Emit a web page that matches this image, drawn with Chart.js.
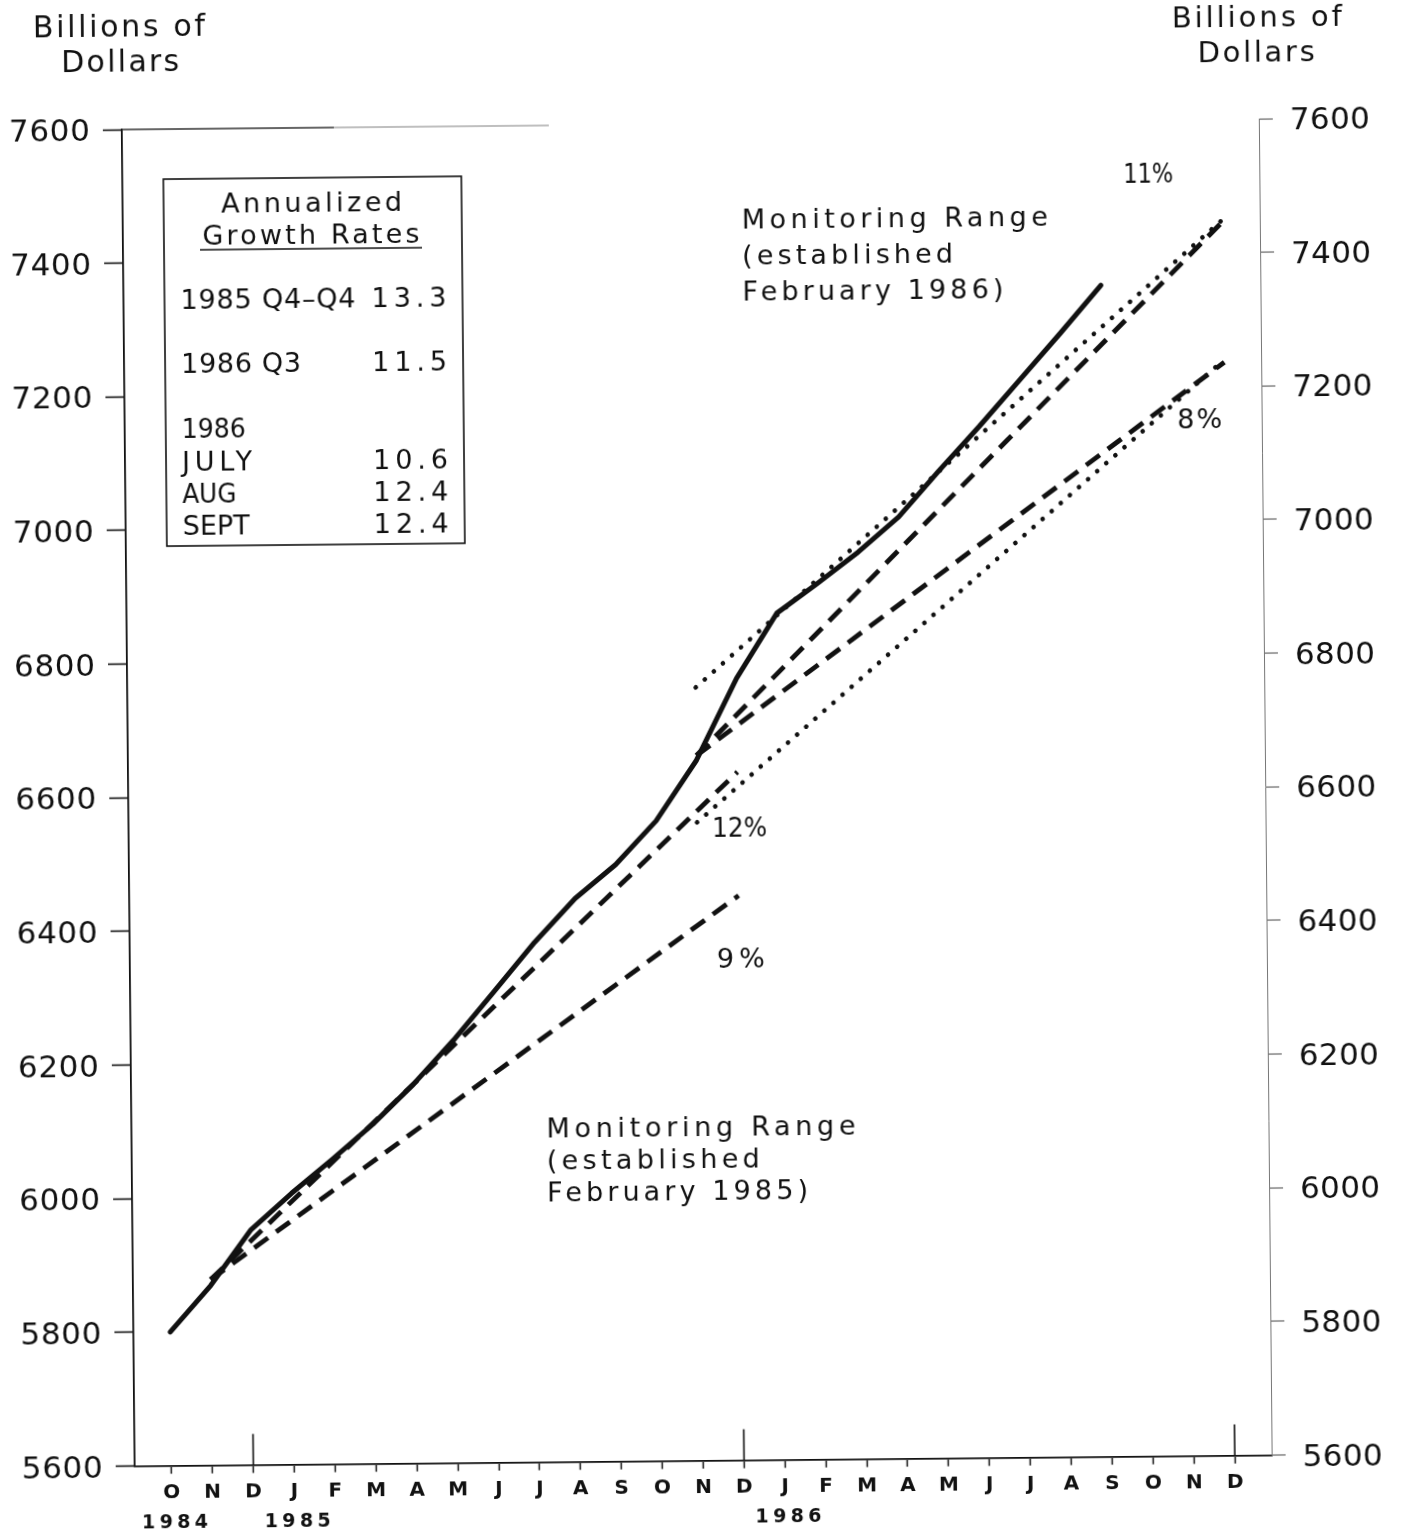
<!DOCTYPE html>
<html>
<head>
<meta charset="utf-8">
<title>Debt monitoring ranges</title>
<script src="https://cdn.jsdelivr.net/npm/chart.js@4.4.1/dist/chart.umd.min.js"></script>
<style>
  html, body { margin: 0; padding: 0; background: #fff; overflow: hidden; }
  /* the original is a slightly skewed scan, so the whole sheet is turned a little */
  #chart { display: block; transform: rotate(-0.55deg); transform-origin: 703px 766px; }
</style>
</head>
<body>
<canvas id="chart" width="1406" height="1532"></canvas>
<script>
// ---------------- data ----------------

// months Oct 1984 .. Dec 1986, index 0 = Oct 1984
const monthLabels = ['O','N','D','J','F','M','A','M','J','J','A','S','O','N','D','J','F','M','A','M','J','J','A','S','O','N','D']
const yearIndex = [0, 3, 15]
const yearLabels = ['1984', '1985', '1986']
const decemberIndex = [2, 14, 26]   // the long ticks at year ends

const yTicks = [5600, 5800, 6000, 6200, 6400, 6600, 6800, 7000, 7200, 7400, 7600]

// actual level, billions of dollars, Oct 1984 .. Sep 1986
const actualMonths = [0,1,2,3,4,5,6,7,8,9,10,11,12,13,14,15,16,17,18,19,20,21,22,23]
const actualDebt = [5800, 5869, 5952, 6006, 6056, 6108, 6167, 6233, 6305, 6378, 6443, 6493,
                    6558, 6648, 6770, 6867, 6911, 6957, 7009, 7078, 7144, 7213, 7282, 7353]

// monitoring range established February 1985 (9% - 12%)
const range85Months = [1, 14]
const range85High = [5878, 6630]   // 12%
const range85Low = [5878, 6445]    // 9%

// monitoring range established February 1986 (8% - 11%)
const range86Months = [13, 26]
const range86High = [6655, 7447]   // 11%
const range86Low = [6655, 7236]    // 8%

// dotted band
const bandMonths = [13, 26]
const bandHigh = [6757, 7450]
const bandLow = [6555, 7240]

// -----------------------------------------------------------

const FONT = "'DejaVu Sans', sans-serif"

const pts = (xs, ys) => xs.map((m, i) => ({ x: m, y: ys[i] }))

const solid = { borderColor: '#111', borderWidth: 5, pointRadius: 0, borderJoinStyle: 'round', borderCapStyle: 'round', tension: 0 }
const dashed = { borderColor: '#111', borderWidth: 4.8, pointRadius: 0, borderDash: [17, 10], tension: 0 }
const dotted = { borderColor: '#111', borderWidth: 4.6, pointRadius: 0, borderDash: [0.1, 12], borderCapStyle: 'round', tension: 0 }

// text placed on the sheet
const notes = [
  { t: 'Billions of', x: 126, y: 31, w: 172, f: '30px', a: 'c' },
  { t: 'Dollars', x: 127, y: 66, w: 118, f: '30px', a: 'c' },
  { t: 'Billions of', x: 1264, y: 32, w: 170, f: '29px', a: 'c' },
  { t: 'Dollars', x: 1263, y: 67, w: 117, f: '29px', a: 'c' },

  { t: 'Annualized', x: 317, y: 208, w: 181, f: '27px', a: 'c' },
  { t: 'Growth Rates', x: 316, y: 240, w: 217, f: '27px', a: 'c' },
  { t: '1985 Q4\u2013Q4', x: 185, y: 304, w: 175, f: '27px', a: 'l' },
  { t: '13.3', x: 451, y: 304, w: 75, f: '27px', a: 'r' },
  { t: '1986 Q3', x: 185, y: 368, w: 120, f: '27px', a: 'l' },
  { t: '11.5', x: 451, y: 368, w: 75, f: '27px', a: 'r' },
  { t: '1986', x: 185, y: 433, w: 64, f: '27px', a: 'l' },
  { t: 'JULY', x: 185, y: 466, w: 70, f: '27px', a: 'l' },
  { t: '10.6', x: 451, y: 466, w: 75, f: '27px', a: 'r' },
  { t: 'AUG', x: 185, y: 498, w: 54, f: '27px', a: 'l' },
  { t: '12.4', x: 451, y: 498, w: 75, f: '27px', a: 'r' },
  { t: 'SEPT', x: 185, y: 530, w: 67, f: '27px', a: 'l' },
  { t: '12.4', x: 451, y: 530, w: 75, f: '27px', a: 'r' },

  { t: 'Monitoring Range', x: 747, y: 229, w: 306, f: '27px', a: 'l' },
  { t: '(established', x: 747, y: 265, w: 211, f: '27px', a: 'l' },
  { t: 'February 1986)', x: 747, y: 301, w: 261, f: '27px', a: 'l' },

  { t: 'Monitoring Range', x: 543, y: 1136, w: 309, f: '27px', a: 'l' },
  { t: '(established', x: 543, y: 1168, w: 213, f: '27px', a: 'l' },
  { t: 'February 1985)', x: 543, y: 1200, w: 261, f: '27px', a: 'l' },

  { t: '11%', x: 1154, y: 187, w: 50, f: '27px', a: 'c' },
  { t: '8%', x: 1203, y: 433, w: 45, f: '27px', a: 'c' },
  { t: '12%', x: 739, y: 837, w: 55, f: '27px', a: 'c' },
  { t: '9%', x: 739, y: 968, w: 48, f: '27px', a: 'c' },
]

// draws text stretched (letter spacing) or squeezed (x scale) to a given width
function spaced(ctx, str, x, y, width, align) {
  ctx.letterSpacing = '0px'
  const w = ctx.measureText(str).width
  let left = x
  if (align === 'c') left = x - width / 2
  if (align === 'r') left = x - width
  ctx.textAlign = 'left'
  ctx.textBaseline = 'alphabetic'
  if (w >= width || str.length < 2) {
    ctx.save()
    ctx.translate(left, y)
    ctx.scale(Math.min(1, width / w), 1)
    ctx.fillText(str, 0, 0)
    ctx.restore()
    return
  }
  ctx.letterSpacing = (width - w) / (str.length - 1) + 'px'
  ctx.fillText(str, left, y)
  ctx.letterSpacing = '0px'
}

const sheet = {
  id: 'sheet',
  afterDraw(chart) {
    const ctx = chart.ctx
    const xs = chart.scales.x
    const ys = chart.scales.y
    const area = chart.chartArea
    ctx.save()
    ctx.strokeStyle = '#111'
    ctx.fillStyle = '#111'

    // value labels on both sides (wide plotter digits)
    ctx.font = '31px ' + FONT
    yTicks.forEach((v) => {
      const py = ys.getPixelForValue(v)
      spaced(ctx, String(v), area.left - 32, py + 11, 81, 'r')
      spaced(ctx, String(v), area.right + 31, py + 11, 80, 'l')
    })

    // long ticks at each December
    ctx.lineWidth = 1.6
    decemberIndex.forEach((m) => {
      const px = xs.getPixelForValue(m)
      ctx.beginPath()
      ctx.moveTo(px, area.bottom)
      ctx.lineTo(px, area.bottom - 31)
      ctx.stroke()
    })

    // stub of the top frame
    ctx.lineWidth = 1.3
    ctx.strokeStyle = '#333'
    ctx.beginPath()
    ctx.moveTo(area.left, area.top)
    ctx.lineTo(340, area.top)
    ctx.stroke()
    ctx.strokeStyle = '#aaa'
    ctx.beginPath()
    ctx.moveTo(340, area.top)
    ctx.lineTo(555, area.top)
    ctx.stroke()

    // year labels under the month letters
    ctx.font = 'bold 19px ' + FONT
    yearIndex.forEach((m, i) => {
      spaced(ctx, yearLabels[i], xs.getPixelForValue(m) + 3, 1523, 66, 'c')
    })

    // growth rate box
    ctx.strokeStyle = '#111'
    ctx.lineWidth = 1.6
    ctx.strokeRect(169, 174, 298, 367)
    ctx.lineWidth = 1.4
    ctx.beginPath()
    ctx.moveTo(205, 245)
    ctx.lineTo(427, 245)
    ctx.stroke()

    notes.forEach((n) => {
      ctx.font = n.f + ' ' + FONT
      spaced(ctx, n.t, n.x, n.y, n.w, n.a)
    })
    ctx.restore()
  },
}

const yAxis = (pos) => ({
  type: 'linear',
  position: pos,
  min: 5600,
  max: 7600,
  afterBuildTicks: (s) => { s.ticks = yTicks.map((v) => ({ value: v })) },
  afterFit: (s) => { s.width = pos === 'left' ? 128 : 141 },
  ticks: { display: false },
  grid: {
    drawOnChartArea: false,
    tickLength: pos === 'left' ? 19 : 14,
    tickColor: pos === 'left' ? '#111' : '#555',
    tickWidth: pos === 'left' ? 1.6 : 1.1,
  },
  border: { display: true, color: pos === 'left' ? '#111' : '#777', width: pos === 'left' ? 1.8 : 1 },
})

new Chart(document.getElementById('chart'), {
  type: 'line',
  data: {
    datasets: [
      { ...solid, data: pts(actualMonths, actualDebt) },
      { ...dashed, data: pts(range85Months, range85High) },
      { ...dashed, data: pts(range85Months, range85Low) },
      { ...dashed, data: pts(range86Months, range86High) },
      { ...dashed, data: pts(range86Months, range86Low) },
      { ...dotted, data: pts(bandMonths, bandHigh) },
      { ...dotted, data: pts(bandMonths, bandLow) },
    ],
  },
  options: {
    responsive: false,
    devicePixelRatio: 1,
    animation: false,
    layout: { padding: { top: 124, left: 0, right: 0, bottom: 0 } },
    plugins: { legend: { display: false }, tooltip: { enabled: false } },
    scales: {
      x: {
        type: 'linear',
        min: -0.9,
        max: 26.9,
        afterBuildTicks: (s) => { s.ticks = monthLabels.map((_, i) => ({ value: i })) },
        afterFit: (s) => { s.height = 71.4 },
        ticks: {
          color: '#111',
          font: { family: FONT, size: 20, weight: 'bold' },
          padding: 7,
          maxRotation: 0,
          autoSkip: false,
          callback: (v) => monthLabels[v],
        },
        grid: { drawOnChartArea: false, tickLength: 8, tickColor: '#111', tickWidth: 1.5 },
        border: { display: true, color: '#111', width: 1.8 },
      },
      y: yAxis('left'),
      y2: yAxis('right'),
    },
  },
  plugins: [sheet],
})
</script>
</body>
</html>
